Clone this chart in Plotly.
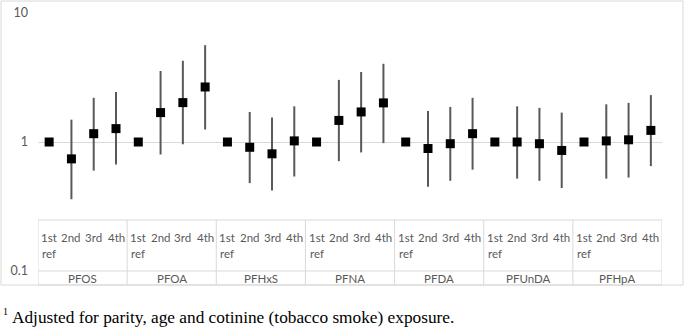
import plotly.graph_objects as go

# ---- data ----
groups = ["PFOS", "PFOA", "PFHxS", "PFNA", "PFDA", "PFUnDA", "PFHpA"]
quartiles = ["1st ref", "2nd", "3rd", "4th"]

or_values = [
    [1.00, 0.74, 1.16, 1.27],  # PFOS
    [1.00, 1.69, 2.02, 2.67],  # PFOA
    [1.00, 0.91, 0.81, 1.02],  # PFHxS
    [1.00, 1.47, 1.71, 2.01],  # PFNA
    [1.00, 0.89, 0.97, 1.16],  # PFDA
    [1.00, 1.00, 0.97, 0.86],  # PFUnDA
    [1.00, 1.02, 1.04, 1.23],  # PFHpA
]
ci_lower = [
    [None, 0.36, 0.60, 0.67],
    [None, 0.80, 0.96, 1.25],
    [None, 0.48, 0.42, 0.54],
    [None, 0.71, 0.83, 0.98],
    [None, 0.45, 0.50, 0.61],
    [None, 0.52, 0.50, 0.44],
    [None, 0.52, 0.53, 0.65],
]
ci_upper = [
    [None, 1.49, 2.20, 2.44],
    [None, 3.55, 4.26, 5.63],
    [None, 1.71, 1.55, 1.89],
    [None, 3.03, 3.49, 4.04],
    [None, 1.74, 1.87, 2.20],
    [None, 1.89, 1.84, 1.69],
    [None, 1.96, 2.01, 2.31],
]
y_tick_vals = [0.1, 1, 10]
y_tick_text = ["0.1", "1", "10"]
footnote = "Adjusted for parity, age and cotinine (tobacco smoke) exposure."

# ---- layout geometry ----
W, H = 685, 328
L, R, T, B = 38, 23, 13, 57
PW, PH = W - L - R, H - T - B
nq = len(quartiles)
ncat = len(groups) * nq


def px2x(px):
    return (px - L) / PW


def py2y(py):
    return (H - B - py) / PH


xs, ys, ep, em = [], [], [], []
for gi in range(len(groups)):
    for qi in range(nq):
        v = or_values[gi][qi]
        xs.append(gi * nq + qi + 0.5)
        ys.append(v)
        lo, hi = ci_lower[gi][qi], ci_upper[gi][qi]
        ep.append(0 if hi is None else hi - v)
        em.append(0 if lo is None else v - lo)

fig = go.Figure()
fig.add_trace(go.Scatter(
    x=xs, y=ys, mode="markers",
    marker=dict(symbol="square", size=9, color="black"),
    error_y=dict(type="data", symmetric=False, array=ep, arrayminus=em,
                 width=0, thickness=2, color="#595959"),
    showlegend=False, hoverinfo="skip",
))

grid = "#d9d9d9"
txt = "#595959"
font_sans = "Lato"

shapes = []
# outer chart border
shapes.append(dict(type="rect", xref="paper", yref="paper",
                   x0=px2x(1), x1=px2x(683), y0=py2y(285), y1=py2y(1),
                   line=dict(color=grid, width=1), fillcolor="rgba(0,0,0,0)", layer="below"))
# category table
tbl_top, tbl_mid, tbl_bot = 220, 271, 285
for yy in (tbl_top, tbl_mid, tbl_bot):
    shapes.append(dict(type="line", xref="x", yref="paper", x0=0, x1=ncat,
                       y0=py2y(yy), y1=py2y(yy), line=dict(color=grid, width=1)))
for gi in range(len(groups) + 1):
    shapes.append(dict(type="line", xref="x", yref="paper", x0=gi * nq, x1=gi * nq,
                       y0=py2y(tbl_top), y1=py2y(tbl_bot), line=dict(color=grid, width=1)))

annotations = []
for gi, g in enumerate(groups):
    for qi, q in enumerate(quartiles):
        parts = q.split(" ")
        for li, part in enumerate(parts):
            annotations.append(dict(x=gi * nq + qi + 0.5, xref="x", y=py2y(237 + 16 * li), yref="paper",
                                    text=part, showarrow=False, xanchor="center", yanchor="middle",
                                    font=dict(family=font_sans, size=11.5, color=txt)))
    annotations.append(dict(x=gi * nq + nq / 2, xref="x", y=py2y(278.5), yref="paper",
                            text=g, showarrow=False, xanchor="center", yanchor="middle",
                            font=dict(family=font_sans, size=11.5, color=txt)))

# footnote
annotations.append(dict(x=px2x(1), xref="paper", y=py2y(311), yref="paper", text="1",
                        showarrow=False, xanchor="left", yanchor="middle",
                        font=dict(family="Liberation Serif", size=10, color="black")))
annotations.append(dict(x=px2x(10), xref="paper", y=py2y(318), yref="paper", text=footnote,
                        showarrow=False, xanchor="left", yanchor="middle",
                        font=dict(family="Liberation Serif", size=17.3, color="black")))

fig.update_layout(
    width=W, height=H,
    margin=dict(l=L, r=R, t=T, b=B, pad=0, autoexpand=False),
    paper_bgcolor="white", plot_bgcolor="white",
    xaxis=dict(range=[0, ncat], showgrid=False, zeroline=False, showticklabels=False,
               showline=False, fixedrange=True, automargin=False),
    yaxis=dict(type="log", range=[-1, 1], tickvals=y_tick_vals, ticktext=y_tick_text,
               showgrid=True, gridcolor=grid, gridwidth=1, zeroline=False, showline=False,
               ticks="", ticklabelstandoff=9, automargin=False,
               tickfont=dict(family=font_sans, size=12.5, color=txt)),
    shapes=shapes, annotations=annotations,
)

fig.write_html("out.html", config={"displayModeBar": False, "staticPlot": True},
               post_script="document.body.style.margin='0';document.body.style.overflow='hidden';")
